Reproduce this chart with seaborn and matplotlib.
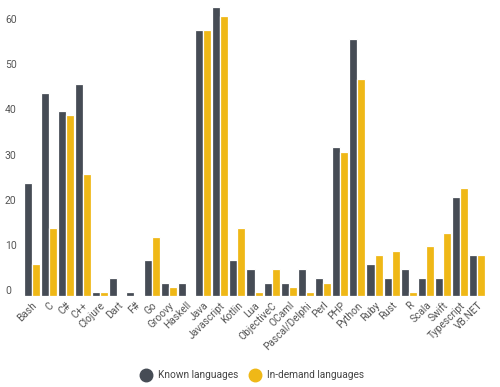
import pandas as pd
import matplotlib
matplotlib.use('Agg')
import matplotlib.pyplot as plt
import seaborn as sns
from matplotlib.lines import Line2D

languages = ['Bash', 'C', 'C#', 'C++', 'Clojure', 'Dart', 'F#', 'Go', 'Groovy',
             'Haskell', 'Java', 'Javascript', 'Kotlin', 'Lua', 'ObjectiveC',
             'OCaml', 'Pascal/Delphi', 'Perl', 'PHP', 'Python', 'Ruby', 'Rust',
             'R', 'Scala', 'Swift', 'Typescript', 'VB.NET']
known = [25, 45, 41, 47, 1, 4, 1, 8, 3, 3, 59, 64, 8, 6, 3, 3, 6, 4, 33, 57,
         7, 4, 6, 4, 4, 22, 9]
in_demand = [7, 15, 40, 27, 1, 0, 0, 13, 2, 0, 59, 62, 15, 1, 6, 2, 1, 3, 32,
             48, 9, 10, 1, 11, 14, 24, 9]
series = ['Known languages', 'In-demand languages']
colors = ['#464c55', '#efb817']
y_ticks = [0, 10, 20, 30, 40, 50, 60]

df = pd.DataFrame({
    'language': languages * 2,
    'value': known + in_demand,
    'series': [series[0]] * len(languages) + [series[1]] * len(languages),
})

sns.set_style('white')
plt.rcParams['font.family'] = ['Roboto', 'DejaVu Sans']

fig = plt.figure(figsize=(5, 3.87), dpi=100)
ax = fig.add_axes([0.046, 0.235, 0.926, 0.7587])

sns.barplot(data=df, x='language', y='value', hue='series', palette=colors,
            saturation=1, width=0.94, edgecolor='white', linewidth=0.9,
            legend=False, ax=ax)

ax.set_xlim(-0.5, len(languages) - 0.5)
ax.set_ylim(0, 65)
ax.set_xlabel('')
ax.set_ylabel('')
sns.despine(ax=ax, left=True, bottom=True)

ax.set_yticks(y_ticks)
ax.set_yticklabels([str(t) for t in y_ticks], fontsize=7.5, color='#555555',
                   va='bottom', ha='left')
ax.tick_params(axis='y', length=0, pad=13)
ax.tick_params(axis='x', length=0, pad=3)
plt.setp(ax.get_xticklabels(), rotation=45, ha='right', rotation_mode='anchor',
         fontsize=7.3, color='#555555')

handles = [Line2D([], [], marker='o', linestyle='', markersize=9, color=c) for c in colors]
fig.legend(handles, series, loc='center', bbox_to_anchor=(0.5, 0.03), ncol=2,
           frameon=False, fontsize=7.3, handletextpad=0.2, columnspacing=0.6,
           labelcolor='#444444')

fig.savefig('out.png', dpi=100)
